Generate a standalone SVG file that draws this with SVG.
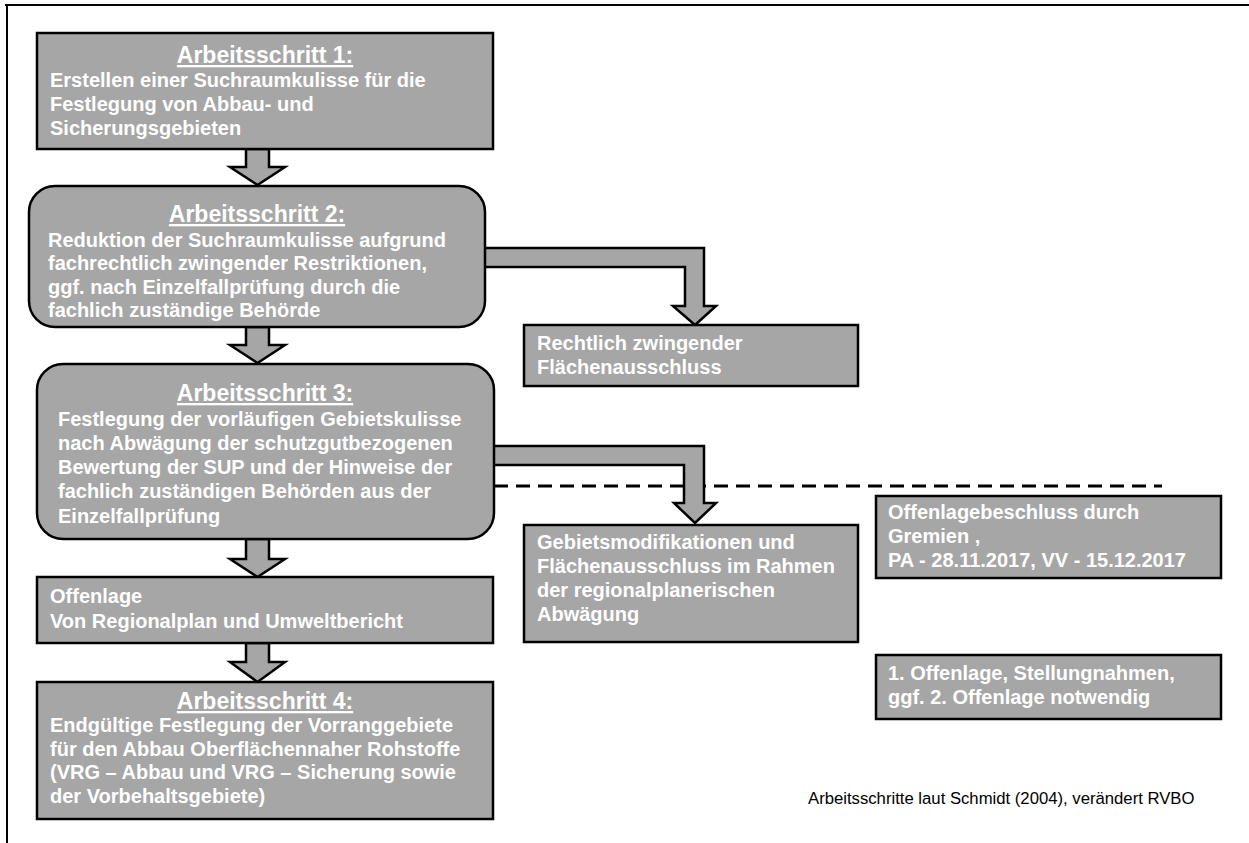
<svg xmlns="http://www.w3.org/2000/svg" width="1249" height="843" viewBox="0 0 1249 843">
<style>
.box{fill:#a6a6a6;stroke:#000;stroke-width:2.5}
.arr{fill:#a6a6a6;stroke:#000;stroke-width:2.5;stroke-linejoin:miter}
.t{font-family:"Liberation Sans",Arial,sans-serif;font-weight:bold;font-size:20px;fill:#fff}
.h{font-family:"Liberation Sans",Arial,sans-serif;font-weight:bold;font-size:23px;fill:#fff;text-decoration:underline;text-anchor:middle}
.src{font-family:"Liberation Sans",Arial,sans-serif;font-size:16.7px;fill:#000}
</style>
<rect width="1249" height="843" fill="#fff"/>
<g id="frame">
<line x1="5" y1="5" x2="1249" y2="5" stroke="#000" stroke-width="2"/>
<line x1="7" y1="5" x2="7" y2="843" stroke="#000" stroke-width="2"/>
</g>
<g id="connectors">
<line x1="494" y1="486" x2="1162" y2="486" stroke="#000" stroke-width="3" stroke-dasharray="14,8"/>
<polygon class="arr" points="246,149 269,149 269,167 285,167 257.5,185 230,167 246,167"/>
<polygon class="arr" points="246,327 269,327 269,345 285,345 257.5,363 230,345 246,345"/>
<polygon class="arr" points="246,539 269,539 269,559 285,559 257.5,577 230,559 246,559"/>
<polygon class="arr" points="246,643 269,643 269,662 285,662 257.5,682 230,662 246,662"/>
<polygon class="arr" points="480,248 704,248 704,306 716,306 695,325 673,306 685,306 685,267 480,267"/>
<polygon class="arr" points="488,446 704,446 704,503 716,503 695,523 674,503 684,503 684,465 488,465"/>
</g>
<g id="step1">
<rect class="box" x="37" y="33" width="456" height="116"/>
<text class="h" x="265" y="63">Arbeitsschritt 1:</text>
<text class="t" x="50" y="87">Erstellen einer Suchraumkulisse für die</text>
<text class="t" x="50" y="111">Festlegung von Abbau- und</text>
<text class="t" x="50" y="135">Sicherungsgebieten</text>
</g>
<g id="step2">
<rect class="box" x="29" y="186" width="456" height="141" rx="26" ry="26"/>
<text class="h" x="257" y="222">Arbeitsschritt 2:</text>
<text class="t" x="48" y="247">Reduktion der Suchraumkulisse aufgrund</text>
<text class="t" x="48" y="270">fachrechtlich zwingender Restriktionen,</text>
<text class="t" x="48" y="294">ggf. nach Einzelfallprüfung durch die</text>
<text class="t" x="48" y="317">fachlich zuständige Behörde</text>
</g>
<g id="step3">
<rect class="box" x="37" y="364" width="457" height="175" rx="26" ry="26"/>
<text class="h" x="265" y="401">Arbeitsschritt 3:</text>
<text class="t" x="58" y="426">Festlegung der vorläufigen Gebietskulisse</text>
<text class="t" x="58" y="450">nach Abwägung der schutzgutbezogenen</text>
<text class="t" x="58" y="474">Bewertung der SUP und der Hinweise der</text>
<text class="t" x="58" y="498">fachlich zuständigen Behörden aus der</text>
<text class="t" x="58" y="523">Einzelfallprüfung</text>
</g>
<g id="offenlage">
<rect class="box" x="37" y="577" width="456" height="66"/>
<text class="t" x="50" y="603">Offenlage</text>
<text class="t" x="50" y="628">Von Regionalplan und Umweltbericht</text>
</g>
<g id="step4">
<rect class="box" x="37" y="682" width="456" height="137"/>
<text class="h" x="265" y="709">Arbeitsschritt 4:</text>
<text class="t" x="50" y="732">Endgültige Festlegung der Vorranggebiete</text>
<text class="t" x="50" y="756">für den Abbau Oberflächennaher Rohstoffe</text>
<text class="t" x="50" y="779">(VRG – Abbau und VRG – Sicherung sowie</text>
<text class="t" x="50" y="803">der Vorbehaltsgebiete)</text>
</g>
<g id="ausschluss">
<rect class="box" x="524" y="325" width="334" height="61"/>
<text class="t" x="537" y="350">Rechtlich zwingender</text>
<text class="t" x="537" y="374">Flächenausschluss</text>
</g>
<g id="modifikationen">
<rect class="box" x="524" y="525" width="334" height="117"/>
<text class="t" x="537" y="549">Gebietsmodifikationen und</text>
<text class="t" x="537" y="573">Flächenausschluss im Rahmen</text>
<text class="t" x="537" y="597">der regionalplanerischen</text>
<text class="t" x="537" y="621">Abwägung</text>
</g>
<g id="beschluss">
<rect class="box" x="876" y="496" width="345" height="82"/>
<text class="t" x="888" y="519">Offenlagebeschluss durch</text>
<text class="t" x="888" y="543">Gremien ,</text>
<text class="t" x="888" y="567">PA - 28.11.2017, VV - 15.12.2017</text>
</g>
<g id="stellungnahmen">
<rect class="box" x="876" y="655" width="345" height="64"/>
<text class="t" x="888" y="680">1. Offenlage, Stellungnahmen,</text>
<text class="t" x="888" y="704">ggf. 2. Offenlage notwendig</text>
</g>
<g id="quelle">
<text class="src" x="808" y="804">Arbeitsschritte laut Schmidt (2004), verändert RVBO</text>
</g>
</svg>
